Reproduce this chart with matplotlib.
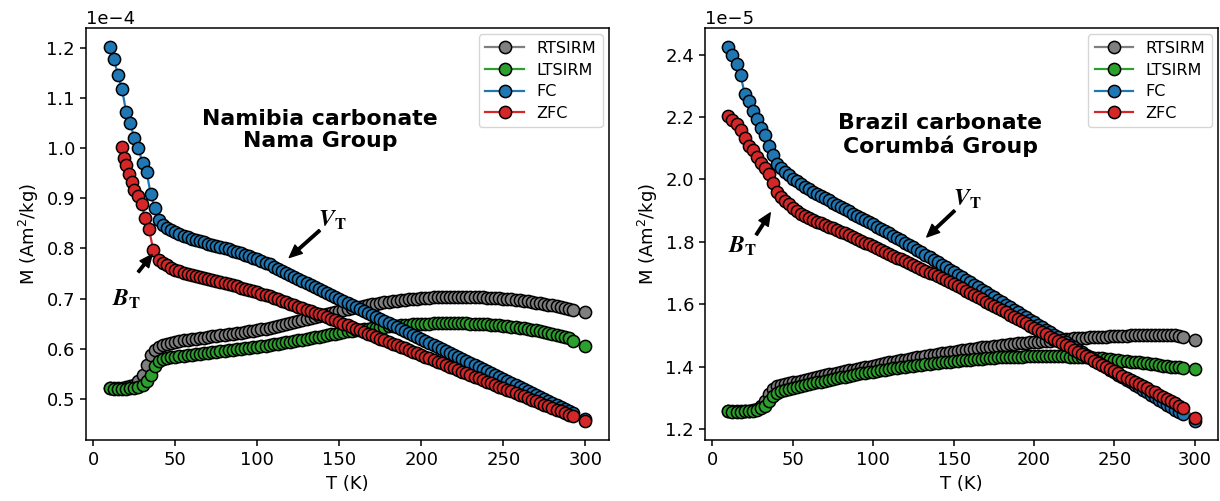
import numpy as np
import matplotlib
matplotlib.use('Agg')
import matplotlib.pyplot as plt

plt.rcParams['axes.linewidth'] = 1.1

# measurement temperatures (K)
temps = [10, 12.5, 15, 17.5, 20, 22.5, 25, 27.5, 30, 32.5, 35, 37.5,
         40, 42.5, 45, 47.5, 50, 52.5, 55, 57.5, 60, 62.5,
         65, 67.5, 70, 72.5, 75, 77.5, 80, 82.5, 85, 87.5,
         90, 92.5, 95, 97.5, 100, 102.5, 105, 107.5, 110, 112.5,
         115, 117.5, 120, 122.5, 125, 127.5, 130, 132.5, 135, 137.5,
         140, 142.5, 145, 147.5, 150, 152.5, 155, 157.5, 160, 162.5,
         165, 167.5, 170, 172.5, 175, 177.5, 180, 182.5, 185, 187.5,
         190, 192.5, 195, 197.5, 200, 202.5, 205, 207.5, 210, 212.5,
         215, 217.5, 220, 222.5, 225, 227.5, 230, 232.5, 235, 237.5,
         240, 242.5, 245, 247.5, 250, 252.5, 255, 257.5, 260, 262.5,
         265, 267.5, 270, 272.5, 275, 277.5, 280, 282.5, 285, 287.5,
         290, 292.5, 300]

# ---- Namibia carbonate, Nama Group (x 1e-4 Am2/kg) ----
rt_nama = [0.521, 0.521, 0.521, 0.522, 0.523, 0.525, 0.528, 0.535, 0.548, 0.568, 0.588, 0.598,
           0.604, 0.607, 0.610, 0.612, 0.614, 0.615, 0.617, 0.618, 0.619, 0.620,
           0.621, 0.622, 0.624, 0.625, 0.626, 0.627, 0.628, 0.629, 0.630, 0.631,
           0.632, 0.633, 0.635, 0.636, 0.637, 0.639, 0.640, 0.642, 0.643, 0.645,
           0.647, 0.649, 0.651, 0.653, 0.655, 0.657, 0.659, 0.661, 0.663, 0.665,
           0.667, 0.669, 0.671, 0.673, 0.675, 0.677, 0.679, 0.681, 0.683, 0.684,
           0.686, 0.687, 0.689, 0.690, 0.691, 0.693, 0.694, 0.695, 0.696, 0.697,
           0.698, 0.699, 0.700, 0.700, 0.701, 0.702, 0.702, 0.703, 0.703, 0.703,
           0.704, 0.704, 0.704, 0.704, 0.704, 0.704, 0.704, 0.703, 0.703, 0.703,
           0.702, 0.702, 0.701, 0.701, 0.700, 0.699, 0.699, 0.698, 0.697, 0.696,
           0.695, 0.694, 0.692, 0.691, 0.690, 0.688, 0.687, 0.685, 0.684, 0.682,
           0.680, 0.678, 0.674]

lt_nama = [0.521, 0.520, 0.520, 0.520, 0.520, 0.521, 0.522, 0.524, 0.528, 0.535, 0.547, 0.566,
           0.575, 0.579, 0.581, 0.583, 0.584, 0.585, 0.586, 0.587, 0.588, 0.589,
           0.590, 0.591, 0.592, 0.593, 0.594, 0.595, 0.596, 0.597, 0.598, 0.599,
           0.600, 0.601, 0.602, 0.603, 0.604, 0.605, 0.606, 0.607, 0.609, 0.610,
           0.611, 0.613, 0.614, 0.615, 0.617, 0.618, 0.620, 0.621, 0.623, 0.624,
           0.626, 0.627, 0.629, 0.630, 0.632, 0.633, 0.635, 0.636, 0.637, 0.638,
           0.639, 0.640, 0.641, 0.642, 0.643, 0.644, 0.645, 0.646, 0.646, 0.647,
           0.648, 0.648, 0.649, 0.649, 0.650, 0.650, 0.650, 0.651, 0.651, 0.651,
           0.651, 0.651, 0.651, 0.651, 0.651, 0.651, 0.650, 0.650, 0.650, 0.649,
           0.649, 0.648, 0.647, 0.647, 0.646, 0.645, 0.644, 0.643, 0.642, 0.641,
           0.640, 0.638, 0.637, 0.635, 0.634, 0.632, 0.630, 0.628, 0.626, 0.624,
           0.621, 0.616, 0.605]

fc_nama = [1.203, 1.178, 1.147, 1.118, 1.072, 1.050, 1.020, 1.000, 0.970, 0.952, 0.908, 0.880,
           0.857, 0.847, 0.841, 0.836, 0.832, 0.828, 0.825, 0.822, 0.819, 0.817,
           0.814, 0.812, 0.809, 0.807, 0.805, 0.802, 0.800, 0.798, 0.795, 0.793,
           0.790, 0.787, 0.784, 0.781, 0.778, 0.775, 0.771, 0.768, 0.764, 0.760,
           0.756, 0.752, 0.748, 0.744, 0.740, 0.736, 0.732, 0.728, 0.724, 0.720,
           0.716, 0.712, 0.708, 0.704, 0.700, 0.696, 0.692, 0.688, 0.684, 0.680,
           0.676, 0.672, 0.668, 0.664, 0.660, 0.656, 0.652, 0.648, 0.644, 0.640,
           0.636, 0.632, 0.628, 0.624, 0.620, 0.616, 0.612, 0.608, 0.604, 0.600,
           0.596, 0.592, 0.588, 0.584, 0.580, 0.576, 0.572, 0.568, 0.564, 0.560,
           0.556, 0.552, 0.548, 0.544, 0.540, 0.536, 0.532, 0.528, 0.524, 0.520,
           0.516, 0.512, 0.508, 0.504, 0.500, 0.496, 0.492, 0.488, 0.484, 0.480,
           0.476, 0.472, 0.460]

# ZFC on this sample was logged more finely below 40 K
t_zfc_nama = [17.5, 18.5, 20, 21.5, 23.5, 25, 27, 29.5, 31.5, 34, 36.5] + temps[12:]
zfc_nama = [1.003, 0.981, 0.966, 0.949, 0.932, 0.917, 0.904, 0.889, 0.860, 0.838, 0.797,
            0.777, 0.771, 0.766, 0.762, 0.758, 0.755, 0.752, 0.749, 0.747, 0.745,
            0.743, 0.741, 0.739, 0.737, 0.735, 0.733, 0.731, 0.729, 0.727, 0.725,
            0.722, 0.720, 0.718, 0.715, 0.713, 0.710, 0.708, 0.705, 0.702, 0.699,
            0.696, 0.693, 0.690, 0.687, 0.684, 0.681, 0.678, 0.675, 0.672, 0.670,
            0.667, 0.664, 0.660, 0.657, 0.654, 0.650, 0.647, 0.644, 0.640, 0.637,
            0.634, 0.630, 0.627, 0.624, 0.620, 0.617, 0.614, 0.610, 0.607, 0.604,
            0.601, 0.597, 0.594, 0.591, 0.587, 0.584, 0.581, 0.577, 0.574, 0.571,
            0.567, 0.564, 0.561, 0.558, 0.554, 0.551, 0.548, 0.544, 0.541, 0.538,
            0.534, 0.531, 0.528, 0.524, 0.521, 0.518, 0.515, 0.511, 0.508, 0.505,
            0.501, 0.498, 0.495, 0.491, 0.488, 0.485, 0.481, 0.478, 0.475, 0.471,
            0.468, 0.465, 0.455]

# ---- Brazil carbonate, Corumba Group (x 1e-5 Am2/kg) ----
rt_corumba = [1.258, 1.257, 1.257, 1.257, 1.258, 1.259, 1.261, 1.265, 1.274, 1.291, 1.313, 1.328,
              1.337, 1.341, 1.344, 1.347, 1.350, 1.353, 1.356, 1.359, 1.362, 1.365,
              1.367, 1.370, 1.373, 1.376, 1.378, 1.381, 1.384, 1.386, 1.389, 1.391,
              1.394, 1.396, 1.399, 1.401, 1.404, 1.406, 1.409, 1.411, 1.414, 1.416,
              1.419, 1.421, 1.423, 1.426, 1.428, 1.430, 1.432, 1.435, 1.437, 1.439,
              1.441, 1.443, 1.445, 1.447, 1.449, 1.451, 1.453, 1.455, 1.457, 1.458,
              1.460, 1.462, 1.463, 1.465, 1.466, 1.468, 1.469, 1.471, 1.472, 1.473,
              1.475, 1.476, 1.477, 1.479, 1.480, 1.481, 1.482, 1.483, 1.484, 1.486,
              1.487, 1.488, 1.489, 1.490, 1.491, 1.492, 1.493, 1.493, 1.494, 1.495,
              1.496, 1.497, 1.497, 1.498, 1.499, 1.499, 1.500, 1.500, 1.501, 1.501,
              1.502, 1.502, 1.502, 1.503, 1.503, 1.503, 1.503, 1.503, 1.503, 1.502,
              1.499, 1.495, 1.487]

lt_corumba = [1.257, 1.256, 1.256, 1.256, 1.257, 1.258, 1.260, 1.263, 1.268, 1.276, 1.290, 1.305,
              1.316, 1.321, 1.325, 1.329, 1.332, 1.335, 1.338, 1.341, 1.344, 1.347,
              1.350, 1.353, 1.356, 1.359, 1.362, 1.364, 1.367, 1.369, 1.372, 1.374,
              1.376, 1.379, 1.381, 1.383, 1.385, 1.387, 1.389, 1.391, 1.393, 1.395,
              1.397, 1.399, 1.401, 1.402, 1.404, 1.406, 1.407, 1.409, 1.410, 1.412,
              1.413, 1.415, 1.416, 1.417, 1.419, 1.420, 1.421, 1.422, 1.423, 1.424,
              1.425, 1.426, 1.427, 1.428, 1.429, 1.430, 1.430, 1.431, 1.432, 1.432,
              1.433, 1.433, 1.434, 1.434, 1.434, 1.434, 1.435, 1.435, 1.435, 1.434,
              1.434, 1.434, 1.434, 1.433, 1.433, 1.432, 1.431, 1.431, 1.430, 1.429,
              1.428, 1.427, 1.426, 1.424, 1.423, 1.422, 1.420, 1.419, 1.417, 1.416,
              1.414, 1.413, 1.411, 1.409, 1.408, 1.406, 1.404, 1.403, 1.401, 1.400,
              1.398, 1.396, 1.393]

fc_corumba = [2.425, 2.400, 2.370, 2.335, 2.275, 2.252, 2.218, 2.195, 2.165, 2.143, 2.108, 2.080,
              2.050, 2.036, 2.024, 2.013, 2.003, 1.994, 1.985, 1.977, 1.969, 1.961,
              1.954, 1.947, 1.940, 1.933, 1.926, 1.919, 1.912, 1.905, 1.898, 1.891,
              1.884, 1.877, 1.870, 1.863, 1.856, 1.849, 1.842, 1.835, 1.828, 1.820,
              1.813, 1.805, 1.798, 1.790, 1.783, 1.775, 1.767, 1.759, 1.751, 1.743,
              1.735, 1.727, 1.719, 1.711, 1.703, 1.695, 1.687, 1.679, 1.671, 1.663,
              1.655, 1.647, 1.639, 1.631, 1.623, 1.615, 1.607, 1.599, 1.591, 1.583,
              1.575, 1.567, 1.559, 1.551, 1.543, 1.535, 1.527, 1.519, 1.511, 1.503,
              1.495, 1.487, 1.479, 1.471, 1.463, 1.455, 1.447, 1.439, 1.431, 1.423,
              1.415, 1.407, 1.399, 1.391, 1.383, 1.375, 1.367, 1.359, 1.351, 1.343,
              1.335, 1.327, 1.319, 1.311, 1.303, 1.295, 1.287, 1.279, 1.271, 1.263,
              1.255, 1.248, 1.226]

zfc_corumba = [2.203, 2.191, 2.178, 2.158, 2.132, 2.108, 2.093, 2.071, 2.052, 2.036, 2.018, 1.988,
               1.960, 1.945, 1.932, 1.920, 1.909, 1.899, 1.890, 1.883, 1.877, 1.871,
               1.865, 1.860, 1.854, 1.849, 1.844, 1.838, 1.833, 1.827, 1.822, 1.816,
               1.810, 1.804, 1.798, 1.792, 1.786, 1.780, 1.774, 1.768, 1.762, 1.756,
               1.750, 1.744, 1.738, 1.732, 1.726, 1.720, 1.714, 1.708, 1.702, 1.696,
               1.690, 1.684, 1.677, 1.671, 1.664, 1.658, 1.651, 1.644, 1.637, 1.630,
               1.623, 1.616, 1.609, 1.602, 1.595, 1.588, 1.581, 1.574, 1.567, 1.560,
               1.553, 1.546, 1.539, 1.532, 1.525, 1.518, 1.511, 1.504, 1.497, 1.490,
               1.483, 1.476, 1.469, 1.462, 1.455, 1.448, 1.441, 1.434, 1.427, 1.420,
               1.413, 1.406, 1.400, 1.393, 1.386, 1.379, 1.372, 1.365, 1.358, 1.352,
               1.345, 1.338, 1.331, 1.324, 1.318, 1.311, 1.304, 1.297, 1.290, 1.283,
               1.276, 1.269, 1.237]

labels = ['RTSIRM', 'LTSIRM', 'FC', 'ZFC']
colors = ['tab:gray', 'tab:green', 'tab:blue', 'tab:red']


def panel(ax, curves, scale, yticks, title, title_xy):
    for (t, m), lab, c in zip(curves, labels, colors):
        ax.plot(t, np.array(m) * scale, '-o', color=c, label=lab, lw=1.6,
                ms=8.8, mec='black', mew=1.1)
    ax.set_xlim(-4.5, 314.5)
    ax.set_xticks([0, 50, 100, 150, 200, 250, 300])
    ax.set_yticks(np.array(yticks) * scale)
    ax.ticklabel_format(style='sci', axis='y', scilimits=(0, 0))
    ax.yaxis.get_offset_text().set_fontsize(13)
    ax.tick_params(labelsize=13, width=1.1, length=4.5)
    ax.set_xlabel('T (K)', fontsize=13)
    ax.set_ylabel('M (Am$^2$/kg)', fontsize=13)
    ax.text(title_xy[0], title_xy[1], title, transform=ax.transAxes,
            ha='center', va='center', fontsize=15.8, fontweight='bold',
            linespacing=1.15)
    ax.legend(loc='upper right', fontsize=11.5, handlelength=2.4,
              labelspacing=0.42, borderaxespad=0.4)


def mark(ax, name, txt_at, arrow_from, arrow_to, scale):
    ax.text(txt_at[0], txt_at[1] * scale, name, fontsize=17,
            math_fontfamily='stix', ha='center', va='center')
    ax.annotate('', xy=(arrow_to[0], arrow_to[1] * scale),
                xytext=(arrow_from[0], arrow_from[1] * scale),
                arrowprops=dict(facecolor='black', edgecolor='black', width=1.8,
                                headwidth=8, headlength=9, shrink=0))


fig = plt.figure(figsize=(12.2, 5.01), dpi=100)
ax1 = fig.add_axes([0.0705, 0.122, 0.4287, 0.822])
ax2 = fig.add_axes([0.578, 0.122, 0.4205, 0.822])

panel(ax1, [(temps, rt_nama), (temps, lt_nama), (temps, fc_nama), (t_zfc_nama, zfc_nama)],
      1e-4, [0.5, 0.6, 0.7, 0.8, 0.9, 1.0, 1.1, 1.2],
      'Namibia carbonate\nNama Group', (0.447, 0.752))
panel(ax2, [(temps, rt_corumba), (temps, lt_corumba), (temps, fc_corumba), (temps, zfc_corumba)],
      1e-5, [1.2, 1.4, 1.6, 1.8, 2.0, 2.2, 2.4],
      'Brazil carbonate\nCorumbá Group', (0.458, 0.74))

bt = r'$\mathbfit{B}_{\mathbf{T}}$'
vt = r'$\mathbfit{V}_{\mathbf{T}}$'
mark(ax1, bt, (20, 0.700), (27.4, 0.753), (35.8, 0.788), 1e-4)
mark(ax1, vt, (146, 0.856), (138, 0.836), (119.5, 0.782), 1e-4)
mark(ax2, bt, (18.6, 1.788), (27.3, 1.823), (36, 1.893), 1e-5)
mark(ax2, vt, (158.7, 1.937), (150.6, 1.90), (133.3, 1.816), 1e-5)

plt.savefig('out.png', dpi=100)
